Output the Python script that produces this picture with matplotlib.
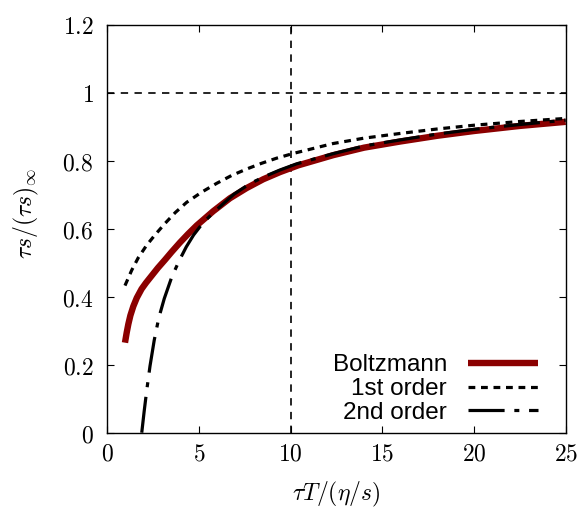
import matplotlib
matplotlib.use("Agg")
import matplotlib.pyplot as plt

# Boltzmann attractor
boltz_x = [0.955, 1.05, 1.14, 1.25, 1.41, 1.6, 1.86, 2.1, 2.41, 2.75, 3.14, 3.5, 3.96, 4.4, 4.87, 5.77, 6.68, 7.59, 8.5, 9.41, 10.41, 12.32, 14.0, 15.96, 18.0, 20.0, 22.5, 25.0]
boltz_y = [0.265, 0.295, 0.32, 0.345, 0.372, 0.397, 0.423, 0.441, 0.462, 0.485, 0.509, 0.532, 0.56, 0.585, 0.61, 0.652, 0.69, 0.72, 0.746, 0.767, 0.787, 0.817, 0.839, 0.857, 0.874, 0.888, 0.903, 0.915]

# 1st order hydro
first_x = [0.955, 1.32, 1.68, 2.14, 2.59, 3.14, 3.7, 4.32, 5.14, 5.96, 6.77, 7.59, 8.41, 9.23, 10.14, 12.3, 14.0, 16.0, 18.0, 20.0, 22.5, 25.0]
first_y = [0.433, 0.478, 0.515, 0.552, 0.582, 0.616, 0.648, 0.678, 0.708, 0.734, 0.757, 0.776, 0.793, 0.808, 0.822, 0.851, 0.867, 0.881, 0.894, 0.905, 0.916, 0.925]

# 2nd order hydro
second_x = [1.87, 2.0, 2.14, 2.32, 2.55, 2.8, 3.1, 3.5, 3.9, 4.3, 4.7, 5.2, 5.8, 6.9, 7.8, 8.7, 9.4, 10.3, 12.3, 14.0, 16.0, 18.0, 20.0, 22.5, 25.0]
second_y = [0.0, 0.062, 0.124, 0.196, 0.272, 0.338, 0.395, 0.457, 0.505, 0.547, 0.582, 0.617, 0.649, 0.702, 0.734, 0.757, 0.773, 0.791, 0.821, 0.844, 0.862, 0.879, 0.893, 0.907, 0.92]

xticks = [0, 5, 10, 15, 20, 25]
yticks = [0, 0.2, 0.4, 0.6, 0.8, 1, 1.2]
xtick_labels = ["0", "5", "10", "15", "20", "25"]
ytick_labels = ["0", "0.2", "0.4", "0.6", "0.8", "1", "1.2"]

ref_x = 10
ref_y = 1

plt.rcParams['mathtext.fontset'] = 'cm'
plt.rcParams['lines.scale_dashes'] = False

fig = plt.figure(figsize=(5.8, 5.08), dpi=100)
ax = fig.add_axes([0.1853, 0.1482, 0.79, 0.8026])

ax.axhline(ref_y, color='black', lw=1.2, dashes=(5.3, 4.6))
ax.axvline(ref_x, color='black', lw=1.2, dashes=(5.3, 4.6))

ax.plot(boltz_x, boltz_y, color='#8B0000', lw=4.6, solid_capstyle='butt',
        solid_joinstyle='round', label='Boltzmann')
ax.plot(first_x, first_y, color='black', lw=2.3, dashes=(4.9, 4.1), label='1st order')
ax.plot(second_x, second_y, color='black', lw=2.3, dashes=(26, 7, 3.6, 7), label='2nd order')

ax.set_xlim(0, 25)
ax.set_ylim(0, 1.2)
ax.set_xticks(xticks)
ax.set_yticks(yticks)
ax.set_xticklabels([f"${t}$" for t in xtick_labels], fontsize=17)
ax.set_yticklabels([f"${t}$" for t in ytick_labels], fontsize=17)
ax.tick_params(axis='both', which='both', direction='in', length=5.2, width=0.8,
               top=True, right=True)
ax.tick_params(axis='y', pad=10)
ax.tick_params(axis='x', pad=6)
for s in ax.spines.values():
    s.set_linewidth(1.0)

ax.set_xlabel(r"$\tau T/(\eta/s)$", fontsize=17)
ax.set_ylabel(r"$\tau s/(\tau s)_\infty$", fontsize=17)
ax.xaxis.set_label_coords(0.5, -0.152)
ax.xaxis.label.set_verticalalignment('center')
ax.yaxis.set_label_coords(-0.176, 0.539)
ax.yaxis.label.set_verticalalignment('center')

leg = ax.legend(loc='lower right', bbox_to_anchor=(0.94, 0.022), frameon=False,
                markerfirst=False, prop={'family': 'Liberation Sans', 'size': 17.5},
                handlelength=2.9, handletextpad=0.85, labelspacing=0.07,
                borderpad=0.0, borderaxespad=0.0)

fig.savefig("out.png", dpi=100)
